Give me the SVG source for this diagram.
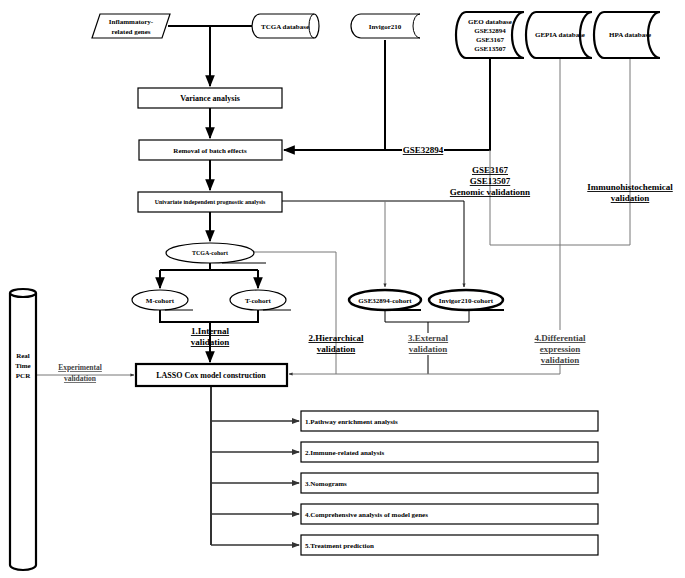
<svg xmlns="http://www.w3.org/2000/svg" width="685" height="578" viewBox="0 0 685 578">
<defs>
<marker id="a" viewBox="0 0 10 10" refX="9" refY="5" markerWidth="6" markerHeight="6" orient="auto"><path d="M0,1 L10,5 L0,9 z" fill="#000"/></marker>
<marker id="s" viewBox="0 0 10 10" refX="9" refY="5" markerWidth="4" markerHeight="4" orient="auto"><path d="M0,1 L10,5 L0,9 z" fill="#333"/></marker>
<style>
text{font-family:"Liberation Serif",serif;font-weight:bold;font-size:7px;text-anchor:middle;fill:#000}
.m{font-size:8px}
.l{font-size:9px;text-decoration:underline}
.g{fill:#444}
.b{fill:#fff;stroke:#000;stroke-width:1.2}
.k{stroke-width:2.2}
.t{stroke:#000;stroke-width:2;fill:none}
.n{stroke:#000;stroke-width:1;fill:none}
.gr{stroke:#777;stroke-width:1;fill:none}
</style>
</defs>
<rect width="685" height="578" fill="#fff"/>
<g id="connectors">
<path class="t" d="M168,26 H252 M210,26 V86" marker-end="url(#a)"/>
<path class="t" d="M210,108 V138" marker-end="url(#a)"/>
<path class="t" d="M210,160 V190" marker-end="url(#a)"/>
<path class="t" d="M385,40 V150 M490,58 V150 H284" marker-end="url(#a)"/>
<path class="t" d="M210,212 V241" marker-end="url(#a)"/>
<path class="n" d="M282,201 H464 V287" marker-end="url(#s)"/>
<path class="gr" d="M385,201 V287" marker-end="url(#s)"/>
<path class="gr" d="M490,150 V245 H630 V58"/>
<path class="gr" d="M560,58 V374"/>
<path class="t" d="M210,263 V270 M160,270 H258"/>
<path class="t" d="M160,270 V288" marker-end="url(#a)"/>
<path class="t" d="M258,270 V288" marker-end="url(#a)"/>
<path class="t" d="M160,310 V322 H258 V310 M210,322 V362" marker-end="url(#a)"/>
<path class="gr" d="M254,252 H336 V374"/>
<path class="n" d="M385,311 V322 H469 V311 M428,322 V374"/>
<path class="gr" d="M560,374 H289" marker-end="url(#s)"/>
<path class="gr" d="M36,375 H134" marker-end="url(#s)"/>
<path class="t" style="stroke:#333" d="M211,386 V545"/>
<path class="t" style="stroke:#333;stroke-width:1.5" d="M211,421 H299 M211,452 H299 M211,483 H299 M211,514 H299 M211,545 H299"/>
<path d="M292,418 L300,421 L292,424z M292,449 L300,452 L292,455z M292,480 L300,483 L292,486z M292,511 L300,514 L292,517z M292,542 L300,545 L292,548z" fill="#333"/>
</g>
<g id="n-inflam"><path class="b" d="M100,14 H170 L162,38 H92 Z"/><text x="131" y="24">Inflammatory-</text><text x="131" y="34">related genes</text></g>
<g id="n-tcga"><path class="b" d="M260,14 H314 A5,12 0 0 1 314,38 H260 A8,12 0 0 1 260,14 Z"/><path class="n" d="M314,14 A5,12 0 0 0 314,38"/><text x="285" y="29">TCGA database</text></g>
<g id="n-invigor"><path class="b" d="M361,14 H420 M420,38 H361 A10,12 0 0 1 361,14"/><path class="n" d="M420,14 A7,12 0 0 0 420,38"/><text x="385" y="29">Invigor210</text></g>
<g id="n-geo"><path class="b k" d="M466,12 H524 A12,23 0 0 0 524,58 H466 A10,23 0 0 1 466,12 Z"/><text x="490" y="24">GEO database</text><text x="490" y="33">GSE32894</text><text x="490" y="42">GSE3167</text><text x="490" y="51">GSE13507</text></g>
<g id="n-gepia"><path class="b k" d="M536,12 H592 A12,23 0 0 0 592,58 H536 A10,23 0 0 1 536,12 Z"/><text x="560" y="37">GEPIA database</text></g>
<g id="n-hpa"><path class="b k" d="M604,12 H660 A12,23 0 0 0 660,58 H604 A10,23 0 0 1 604,12 Z"/><text x="630" y="37">HPA database</text></g>
<g id="n-var"><rect class="b" x="138" y="88" width="144" height="20"/><text class="m" x="210" y="101">Variance analysis</text></g>
<g id="n-rem"><rect class="b" x="139" y="140" width="143" height="20"/><text x="210" y="153">Removal of batch effects</text></g>
<g id="n-uni"><rect class="b" x="138" y="192" width="144" height="20"/><text x="210" y="204" style="font-size:6px">Univariate independent prognostic analysis</text></g>
<g id="lbl-gse"><rect x="402" y="144" width="42" height="12" fill="#fff"/><text class="l" x="423" y="153">GSE32894</text></g>
<g id="lbl-genomic"><text class="l" x="490" y="173">GSE3167</text><text class="l" x="490" y="184">GSE13507</text><text class="l" x="490" y="195">Genomic validationn</text></g>
<g id="lbl-ihc"><text class="l" x="630" y="190">Immunohistochemical</text><text class="l" x="630" y="201">validation</text></g>
<g id="n-tcgac"><ellipse class="b" cx="210" cy="253" rx="44" ry="10"/><path class="n" d="M222,263 H266"/><text x="210" y="255" style="font-size:6px">TCGA-cohort</text></g>
<g id="n-m"><ellipse class="b" cx="160" cy="300" rx="28" ry="10"/><path class="n" d="M165,310 H193"/><text x="160" y="303">M-cohort</text></g>
<g id="n-t"><ellipse class="b" cx="258" cy="300" rx="28" ry="10"/><path class="n" d="M263,310 H291"/><text x="258" y="303">T-cohort</text></g>
<g id="n-gsec"><ellipse class="b" style="stroke-width:2.5" cx="385" cy="300" rx="36" ry="10"/><path class="t" d="M390,310 H421"/><text x="385" y="303">GSE32894-cohort</text></g>
<g id="n-invc"><ellipse class="b" style="stroke-width:2.5" cx="466" cy="300" rx="37" ry="10"/><path class="t" d="M471,310 H504"/><text x="466" y="303">Invigor210-cohort</text></g>
<g id="lbl-1"><text class="l" x="210" y="334">1.Internal </text><text class="l" x="210" y="345">validation</text></g>
<g id="lbl-2"><text class="l" x="336" y="341">2.Hierarchical </text><text class="l" x="336" y="352">validation</text></g>
<g id="lbl-3"><rect x="405" y="333" width="46" height="22" fill="#fff"/><text class="l g" x="428" y="341">3.External</text><text class="l g" x="428" y="352"> validation</text></g>
<g id="lbl-4"><rect x="533" y="330" width="54" height="34" fill="#fff"/><text class="l g" x="560" y="341">4.Differential </text><text class="l g" x="560" y="352">expression </text><text class="l g" x="560" y="363">validation</text></g>
<g id="n-lasso"><rect class="b k" x="136" y="364" width="151" height="22"/><text class="m" x="211" y="378">LASSO Cox model construction</text></g>
<g id="n-pcr"><path class="b k" d="M10,293 V565 A13,5 0 0 0 36,565 V293"/><ellipse class="b k" cx="23" cy="293" rx="13" ry="4"/><text x="23" y="358">Real</text><text x="23" y="368">Time</text><text x="23" y="378">PCR</text></g>
<g id="lbl-exp"><text class="l g" x="80" y="370" style="font-size:7.5px">Experimental</text><text class="l g" x="80" y="381" style="font-size:7.5px">validation</text></g>
<g id="n-b1"><rect class="b" x="301" y="411" width="297" height="20"/><text x="305" y="424" style="text-anchor:start">1.Pathway enrichment analysis</text></g>
<g id="n-b2"><rect class="b" x="301" y="442" width="297" height="20"/><text x="305" y="455" style="text-anchor:start">2.Immune-related analysis</text></g>
<g id="n-b3"><rect class="b" x="301" y="473" width="297" height="20"/><text x="305" y="486" style="text-anchor:start">3.Nomograms</text></g>
<g id="n-b4"><rect class="b" x="301" y="504" width="297" height="20"/><text x="305" y="517" style="text-anchor:start">4.Comprehensive analysis of model genes</text></g>
<g id="n-b5"><rect class="b" x="301" y="535" width="297" height="20"/><text x="305" y="548" style="text-anchor:start">5.Treatment prediction</text></g>
</svg>
